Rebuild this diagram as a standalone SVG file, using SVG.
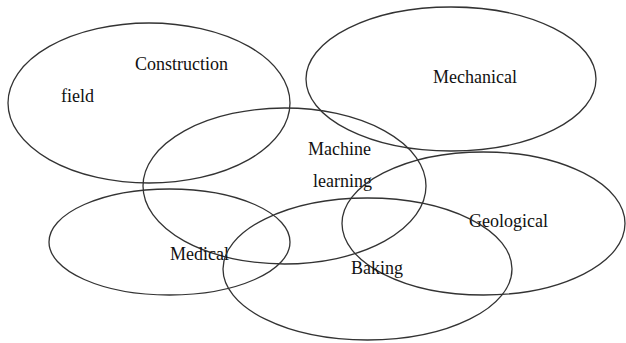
<svg xmlns="http://www.w3.org/2000/svg" width="626" height="343" viewBox="0 0 626 343">
<style>
.e{fill:none;stroke:#333;stroke-width:1.3}
.t{font-family:"Liberation Serif","Times New Roman",serif;font-size:18px;fill:#111}
</style>
<rect width="626" height="343" fill="#fff"/>
<g id="construction"><ellipse class="e" cx="149" cy="103" rx="141" ry="80"/><text class="t" x="135" y="70">Construction</text><text class="t" x="61" y="102">field</text></g>
<g id="mechanical"><ellipse class="e" cx="451" cy="79" rx="145" ry="72"/><text class="t" x="433" y="83">Mechanical</text></g>
<g id="machine-learning"><ellipse class="e" cx="284.5" cy="186" rx="141.5" ry="78"/><text class="t" x="308" y="155">Machine</text><text class="t" x="313" y="187">learning</text></g>
<g id="geological"><ellipse class="e" cx="483.5" cy="223.5" rx="141.5" ry="71.5"/><text class="t" x="469" y="227">Geological</text></g>
<g id="medical"><ellipse class="e" cx="169.5" cy="242" rx="120.5" ry="53"/><text class="t" x="170" y="260">Medical</text></g>
<g id="baking"><ellipse class="e" cx="367.5" cy="269" rx="144.5" ry="71"/><text class="t" x="351" y="274">Baking</text></g>
<g id="connectors"></g>
</svg>
